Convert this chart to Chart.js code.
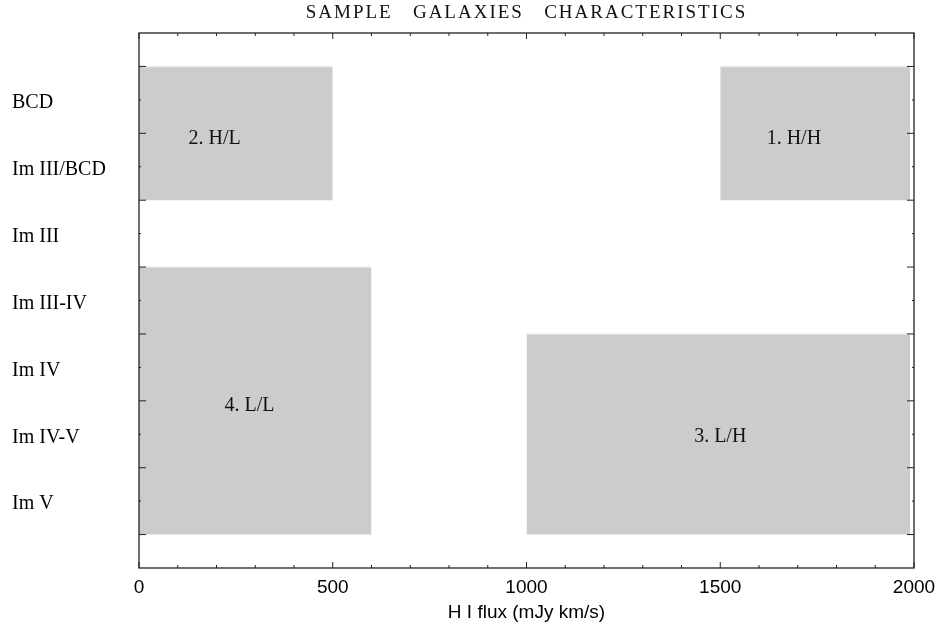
<!DOCTYPE html>
<html>
<head>
<meta charset="utf-8">
<script src="https://cdn.jsdelivr.net/npm/chart.js@4.4.1/dist/chart.umd.min.js"></script>
<style>
  html, body { margin: 0; padding: 0; background: #fff; }
  #wrap { width: 940px; height: 625px; }
</style>
</head>
<body>
<div id="wrap"><canvas id="chart"></canvas></div>
<script>
const chartTitle = 'SAMPLE   GALAXIES   CHARACTERISTICS';
const xTitle = 'H I flux (mJy km/s)';
// morphological types, y = 1 (bottom) up to y = 7 (top)
const typeLabels = ['Im V', 'Im IV-V', 'Im IV', 'Im III-IV', 'Im III', 'Im III/BCD', 'BCD'];

// the four sample regions
const regionNames = ['1. H/H', '2. H/L', '3. L/H', '4. L/L'];
const regionFluxFrom = [1500, 0, 1000, 0];
const regionFluxTo = [1990, 500, 1990, 600];
const regionTypeLow = [5.5, 5.5, 0.5, 0.5];
const regionTypeHigh = [7.5, 7.5, 3.5, 4.5];
// where each region's name sits
const regionLabelX = [1690, 195, 1500, 285];
const regionLabelY = [6.42, 6.42, 1.97, 2.42];

const serif = '"Liberation Serif", "DejaVu Serif", serif';
const sans = '"Liberation Sans", Arial, sans-serif';

const datasets = regionNames.map((name, i) => ({
    label: name,
    data: [
        { x: regionFluxFrom[i], y: regionTypeHigh[i] },
        { x: regionFluxTo[i], y: regionTypeHigh[i] }
    ],
    fill: { value: regionTypeLow[i] },
    backgroundColor: '#cccccc',
    borderColor: '#ececec',
    borderWidth: 1.5,
    pointRadius: 0,
    tension: 0
}));

// frame, inward ticks, region names and title
const framePlugin = {
    id: 'frame',
    afterDatasetsDraw(chart) {
        const { ctx, chartArea: a, scales: { x, y } } = chart;
        ctx.save();
        ctx.strokeStyle = '#222';
        ctx.lineWidth = 1.3;
        ctx.strokeRect(a.left, a.top, a.right - a.left, a.bottom - a.top);

        ctx.lineWidth = 1;
        ctx.beginPath();
        for (let v = 0; v <= 2000; v += 100) {
            const px = x.getPixelForValue(v);
            const len = v % 500 === 0 ? 6 : 3;
            ctx.moveTo(px, a.bottom); ctx.lineTo(px, a.bottom - len);
            ctx.moveTo(px, a.top); ctx.lineTo(px, a.top + len);
        }
        for (let v = 0.5; v < 8; v += 0.5) {
            const py = y.getPixelForValue(v);
            const len = v % 1 === 0 ? 2 : 7;
            ctx.moveTo(a.left, py); ctx.lineTo(a.left + len, py);
            ctx.moveTo(a.right, py); ctx.lineTo(a.right - len, py);
        }
        ctx.stroke();

        ctx.fillStyle = '#111';
        ctx.font = '20px ' + serif;
        ctx.textAlign = 'center';
        ctx.textBaseline = 'middle';
        regionNames.forEach((name, i) => {
            ctx.fillText(name, x.getPixelForValue(regionLabelX[i]), y.getPixelForValue(regionLabelY[i]));
        });

        ctx.font = '19px ' + serif;
        ctx.letterSpacing = '2px';
        ctx.fillText(chartTitle, (a.left + a.right) / 2, 13);
        ctx.restore();
    }
};

new Chart(document.getElementById('chart'), {
    type: 'line',
    data: { datasets },
    plugins: [framePlugin],
    options: {
        responsive: true,
        maintainAspectRatio: false,
        animation: false,
        layout: { padding: { top: 33, right: 26, bottom: 1, left: 12 } },
        plugins: {
            legend: { display: false },
            tooltip: { enabled: false }
        },
        scales: {
            x: {
                type: 'linear',
                min: 0,
                max: 2000,
                grid: { display: false, drawTicks: false },
                border: { display: false },
                afterFit: scale => { scale.height = 56; scale.paddingRight = 0; },
                ticks: {
                    stepSize: 500,
                    padding: 8,
                    color: '#000',
                    font: { family: sans, size: 19 },
                    callback: v => String(v)
                },
                title: {
                    display: true,
                    text: xTitle,
                    color: '#000',
                    font: { family: sans, size: 19 },
                    padding: { top: 2, bottom: 0 }
                }
            },
            y: {
                type: 'linear',
                min: 0,
                max: 8,
                grid: { display: false, drawTicks: false },
                border: { display: false },
                afterFit: scale => { scale.width = 127; },
                ticks: {
                    stepSize: 1,
                    padding: 0,
                    labelOffset: 3,
                    crossAlign: 'far',
                    color: '#000',
                    font: { family: serif, size: 20 },
                    callback: v => typeLabels[v - 1] || ''
                }
            }
        }
    }
});
</script>
</body>
</html>
